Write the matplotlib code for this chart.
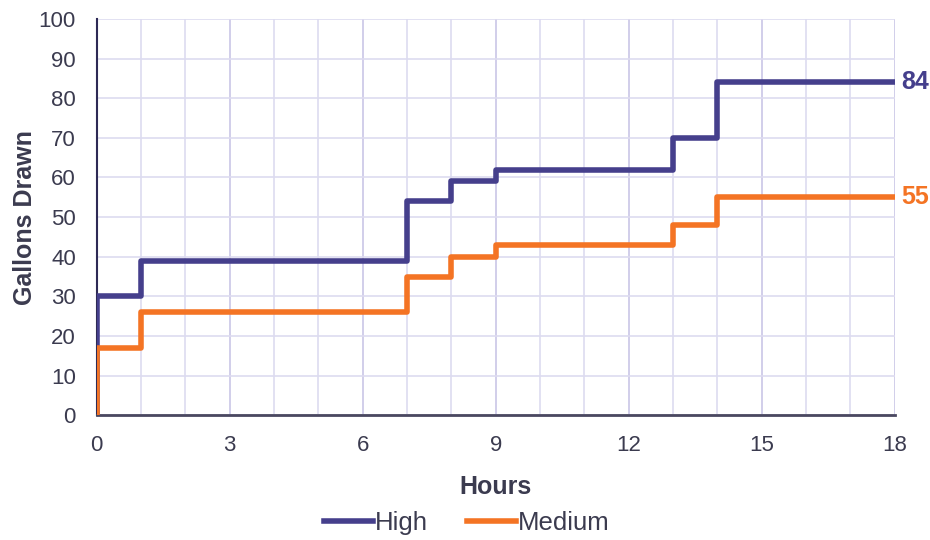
import matplotlib.pyplot as plt
from matplotlib.ticker import MultipleLocator

plt.rcParams['font.family'] = ['Liberation Sans', 'DejaVu Sans']

# Год, коли змінюється об'єм, і накопичені галони
hours = [0, 0, 1, 7, 8, 9, 13, 14, 18]
high = [0, 30, 39, 54, 59, 62, 70, 84, 84]
medium = [0, 17, 26, 35, 40, 43, 48, 55, 55]

text_color = '#3b3b4f'
high_color = '#453f8c'
medium_color = '#f47424'

fig = plt.figure(figsize=(9.3, 5.4), dpi=100)
ax = fig.add_axes([0.104, 0.231, 0.858, 0.734])

ax.step(hours, high, where='post', color=high_color, linewidth=4, label='High', zorder=3)
ax.step(hours, medium, where='post', color=medium_color, linewidth=4, label='Medium', zorder=4)

ax.set_xlim(0, 18)
ax.set_ylim(0, 100)
ax.xaxis.set_major_locator(MultipleLocator(3))
ax.xaxis.set_minor_locator(MultipleLocator(1))
ax.yaxis.set_major_locator(MultipleLocator(10))

ax.grid(which='major', axis='x', color='#c9c6e6', linewidth=1.2)
ax.grid(which='minor', axis='x', color='#dddbf0', linewidth=1.2)
ax.grid(which='major', axis='y', color='#dddbf0', linewidth=1.2)
ax.set_axisbelow(True)

for side in ['top', 'right']:
    ax.spines[side].set_visible(False)
ax.spines['left'].set_color('#2e2a55')
ax.spines['left'].set_linewidth(1.5)
ax.spines['bottom'].set_color('#4a4860')
ax.spines['bottom'].set_linewidth(2)

ax.tick_params(which='both', length=0, labelsize=16, labelcolor=text_color)
ax.tick_params(axis='y', pad=15)
ax.tick_params(axis='x', pad=14)

ax.set_xlabel('Hours', fontsize=18, fontweight='bold', color=text_color, labelpad=14)
ax.set_ylabel('Gallons Drawn', fontsize=18, fontweight='bold', color=text_color, labelpad=1)

# Підписи кінцевих значень
ax.text(18.15, high[-1], str(high[-1]), color=high_color, fontsize=18, fontweight='bold',
        va='center', ha='left', clip_on=False)
ax.text(18.15, medium[-1], str(medium[-1]), color=medium_color, fontsize=18, fontweight='bold',
        va='center', ha='left', clip_on=False)

leg = ax.legend(loc='center', bbox_to_anchor=(0.464, -0.273), ncol=2, frameon=False,
                fontsize=18.5, handlelength=1.9, handletextpad=0.1, columnspacing=1.5)
for t in leg.get_texts():
    t.set_color(text_color)

fig.savefig('out.png', dpi=100)
